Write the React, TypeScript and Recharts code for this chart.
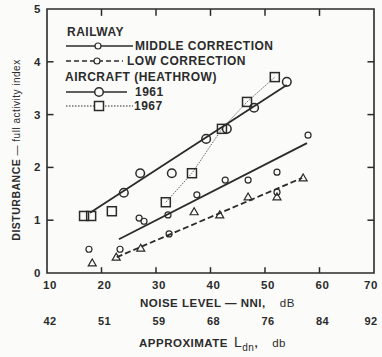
import {
  ComposedChart,
  Scatter,
  XAxis,
  YAxis,
  ReferenceArea,
} from 'recharts';

type Pt = { x: number; y: number };

const xTicks = [10, 20, 30, 40, 50, 60, 70];
const ldnLabels = ['42', '51', '59', '68', '76', '84', '92'];
const yTicks = [0, 1, 2, 3, 4, 5];

// railway, middle correction (small circles)
const railMiddle: Pt[] = [
  { x: 17.7, y: 0.45 },
  { x: 26.9, y: 1.04 },
  { x: 27.8, y: 0.98 },
  { x: 32.2, y: 1.1 },
  { x: 37.5, y: 1.48 },
  { x: 42.7, y: 1.76 },
  { x: 46.9, y: 1.76 },
  { x: 52.2, y: 1.91 },
  { x: 57.9, y: 2.61 },
];
// railway, low correction (triangles + circles on the dashed line)
const railLow: Pt[] = [
  { x: 18.3, y: 0.19 },
  { x: 22.7, y: 0.3 },
  { x: 27.2, y: 0.47 },
  { x: 37.0, y: 1.16 },
  { x: 41.7, y: 1.1 },
  { x: 46.9, y: 1.44 },
  { x: 52.2, y: 1.44 },
  { x: 57.0, y: 1.8 },
];
const railLowCircles: Pt[] = [
  { x: 23.4, y: 0.45 },
  { x: 32.4, y: 0.74 },
  { x: 52.2, y: 1.53 },
];
// aircraft (heathrow)
const air1961: Pt[] = [
  { x: 24.1, y: 1.52 },
  { x: 27.1, y: 1.89 },
  { x: 32.9, y: 1.89 },
  { x: 39.2, y: 2.54 },
  { x: 43.0, y: 2.73 },
  { x: 48.0, y: 3.13 },
  { x: 54.0, y: 3.62 },
];
const air1967: Pt[] = [
  { x: 16.8, y: 1.08 },
  { x: 18.1, y: 1.08 },
  { x: 21.9, y: 1.17 },
  { x: 31.8, y: 1.34 },
  { x: 36.6, y: 1.89 },
  { x: 42.1, y: 2.73 },
  { x: 46.7, y: 3.24 },
  { x: 51.8, y: 3.71 },
];

// fitted lines
const fitMiddle: Pt[] = [{ x: 23.2, y: 0.64 }, { x: 57.7, y: 2.46 }];
const fitLow: Pt[] = [{ x: 22.8, y: 0.3 }, { x: 56.8, y: 1.8 }];
const fit1961: Pt[] = [{ x: 17.9, y: 1.14 }, { x: 54.0, y: 3.56 }];
const joined1967 = air1967.filter((p) => p.x > 30);

// short inward tick marks on all four sides of the frame
const innerX = xTicks.slice(1, -1);
const innerY = yTicks.slice(1, -1);
const frameTicks: Pt[][] = [
  ...innerX.map((v) => [{ x: v, y: 0 }, { x: v, y: 0.11 }]),
  ...innerX.map((v) => [{ x: v, y: 5 }, { x: v, y: 4.87 }]),
  ...innerY.map((v) => [{ x: 10, y: v }, { x: 11.2, y: v }]),
  ...innerY.map((v) => [{ x: 70, y: v }, { x: 68.8, y: v }]),
];

const INK = '#2b2b2b';
const BG = '#fbfbfa';
const FONT = '"Liberation Sans", Arial, sans-serif';

const noMark = () => <g />;
const smallCircle = (p: any) => (
  <circle cx={p.cx} cy={p.cy} r={3} fill="none" stroke={INK} strokeWidth={1.2} />
);
const bigCircle = (p: any) => (
  <circle cx={p.cx} cy={p.cy} r={4.3} fill="none" stroke={INK} strokeWidth={1.5} />
);
const square = (p: any) => (
  <rect x={p.cx - 4.5} y={p.cy - 4.5} width={9} height={9} fill="none" stroke={INK} strokeWidth={1.5} />
);
const triangle = (p: any) => (
  <path
    d={`M${p.cx},${p.cy - 4} L${p.cx + 4},${p.cy + 3} L${p.cx - 4},${p.cy + 3} Z`}
    fill="none"
    stroke={INK}
    strokeWidth={1.2}
  />
);

const txt = { fontFamily: FONT, fontWeight: 700, fill: INK, fontSize: 12, letterSpacing: 0.5 } as const;

// NNI value with the approximate Ldn value underneath
function TwoRowTick(props: any) {
  const { x, y, payload, index } = props;
  const cx = Math.min(x + 3, 371);
  return (
    <g>
      <text x={cx} y={y + 16} textAnchor="middle" {...txt} fontSize={11.5}>
        {payload.value}
      </text>
      <text x={cx} y={y + 52} textAnchor="middle" {...txt} fontSize={11}>
        {ldnLabels[index]}
      </text>
    </g>
  );
}

function Overlay() {
  const t = txt;
  return (
    <svg width={382} height={357} style={{ position: 'absolute', left: 0, top: 0, pointerEvents: 'none' }}>
      {/* legend */}
      <text x={67} y={36} {...t}>RAILWAY</text>
      <line x1={66} x2={133} y1={46} y2={46} stroke={INK} strokeWidth={1.6} />
      <circle cx={98} cy={46} r={3} fill={BG} stroke={INK} strokeWidth={1.2} />
      <text x={135} y={50} {...t}>MIDDLE CORRECTION</text>
      <line x1={66} x2={123} y1={61} y2={61} stroke={INK} strokeWidth={1.6} strokeDasharray="5 3" />
      <circle cx={97} cy={61} r={3} fill={BG} stroke={INK} strokeWidth={1.2} />
      <text x={127} y={65} {...t}>LOW CORRECTION</text>
      <text x={65} y={81} {...t}>AIRCRAFT (HEATHROW)</text>
      <line x1={66} x2={127} y1={92} y2={92} stroke={INK} strokeWidth={1.6} />
      <circle cx={99} cy={92} r={4.3} fill={BG} stroke={INK} strokeWidth={1.5} />
      <text x={135} y={96} {...t}>1961</text>
      <line x1={66} x2={133} y1={106} y2={106} stroke={INK} strokeWidth={1} strokeDasharray="1.5 1.5" />
      <rect x={94.5} y={101.5} width={9} height={9} fill={BG} stroke={INK} strokeWidth={1.5} />
      <text x={134} y={110} {...t}>1967</text>

      {/* axis titles */}
      <text x={140} y={307} {...t} fontSize={11.5}>
        NOISE LEVEL — NNI,
        <tspan fontWeight={400} dx={14}>dB</tspan>
      </text>
      <text x={139} y={347} {...t} fontSize={11.5}>
        APPROXIMATE
        <tspan fontWeight={400} fontSize={14} dx={6}>L</tspan>
        <tspan fontWeight={400} fontSize={10} dy={4}>dn</tspan>
        <tspan dy={-4}>,</tspan>
        <tspan fontWeight={400} dx={14}>db</tspan>
      </text>
      <text transform="translate(20,150) rotate(-90)" textAnchor="middle" {...t} fontSize={10.5}>
        DISTURBANCE
        <tspan fontWeight={400} fontSize={10}> — full activity index</tspan>
      </text>
    </svg>
  );
}

export default function App() {
  return (
    <div style={{ position: 'absolute', left: 0, top: 0, width: 382, height: 357, background: BG }}>
      <ComposedChart width={382} height={357} margin={{ top: 9, right: 8, bottom: 14, left: 20 }}>
        <XAxis
          dataKey="x"
          type="number"
          domain={[10, 70]}
          ticks={xTicks}
          axisLine={false}
          tickLine={false}
          tickSize={0}
          tickMargin={0}
          height={70}
          tick={<TwoRowTick />}
          interval={0}
        />
        <YAxis
          dataKey="y"
          type="number"
          domain={[0, 5]}
          ticks={yTicks}
          axisLine={false}
          tickLine={false}
          tickSize={0}
          tickMargin={6}
          width={27}
          tick={{ ...txt, fontSize: 11.5 }}
        />

        <ReferenceArea x1={10} x2={70} y1={0} y2={5} fill="none" stroke={INK} strokeWidth={1.6} fillOpacity={0} ifOverflow="visible" />
        {frameTicks.map((seg, i) => (
          <Scatter
            key={`tick${i}`}
            data={seg}
            line={{ stroke: INK, strokeWidth: 1.5 }}
            shape={noMark}
            isAnimationActive={false}
          />
        ))}

        <Scatter data={fit1961} line={{ stroke: INK, strokeWidth: 1.8 }} shape={noMark} isAnimationActive={false} />
        <Scatter data={fitMiddle} line={{ stroke: INK, strokeWidth: 1.8 }} shape={noMark} isAnimationActive={false} />
        <Scatter data={fitLow} line={{ stroke: INK, strokeWidth: 1.8, strokeDasharray: '6 3' }} shape={noMark} isAnimationActive={false} />
        <Scatter data={joined1967} line={{ stroke: '#555', strokeWidth: 0.9, strokeDasharray: '1.5 1.2' }} shape={noMark} isAnimationActive={false} />

        <Scatter data={railMiddle} shape={smallCircle} isAnimationActive={false} />
        <Scatter data={railLowCircles} shape={smallCircle} isAnimationActive={false} />
        <Scatter data={railLow} shape={triangle} isAnimationActive={false} />
        <Scatter data={air1961} shape={bigCircle} isAnimationActive={false} />
        <Scatter data={air1967} shape={square} isAnimationActive={false} />
      </ComposedChart>
      <Overlay />
    </div>
  );
}
